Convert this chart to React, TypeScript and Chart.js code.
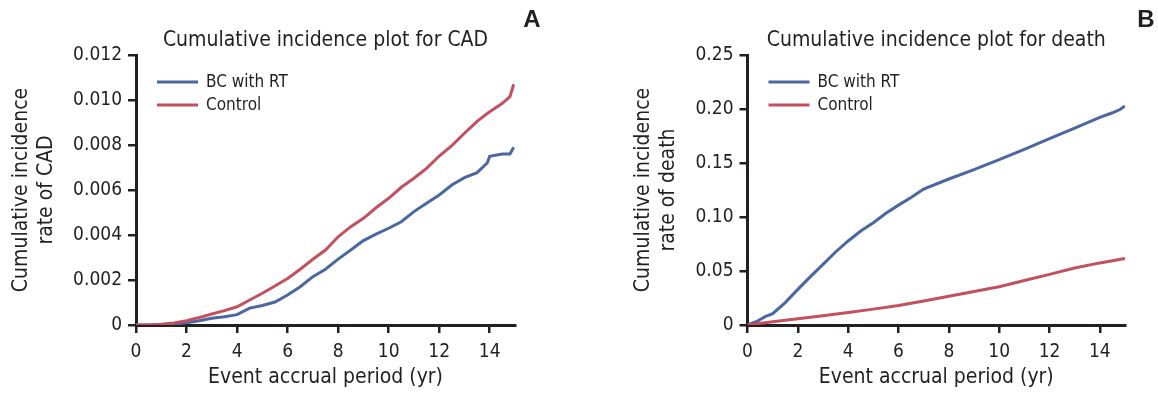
import React, { useEffect, useRef } from "react";
import { Chart, registerables } from "chart.js";

Chart.register(...registerables);

// ---------- DATA ----------
const xTicks = [0, 2, 4, 6, 8, 10, 12, 14];
const xTickLabels = ["0", "2", "4", "6", "8", "10", "12", "14"];

// Panel A: CAD
const cadYears = [0, 0.5, 1, 1.5, 2, 2.5, 3, 3.5, 4, 4.5, 5, 5.5, 6, 6.5, 7, 7.5, 8, 8.5, 9, 9.5, 10, 10.5, 11, 11.5, 12, 12.5, 13, 13.5, 13.9, 14, 14.5, 14.8, 14.95];
const cadBC = [0, 0, 0.00001, 0.00004, 0.0001, 0.00019, 0.0003, 0.00037, 0.00046, 0.00075, 0.00087, 0.00102, 0.00133, 0.0017, 0.00215, 0.00248, 0.00293, 0.00333, 0.00375, 0.00404, 0.0043, 0.00459, 0.00504, 0.00541, 0.00578, 0.00622, 0.00655, 0.00677, 0.0072, 0.0075, 0.0076, 0.0076, 0.0079];
const cadControl = [0, 0, 0.00003, 0.00009, 0.00019, 0.00033, 0.00049, 0.00064, 0.00081, 0.00111, 0.00141, 0.00173, 0.00207, 0.00248, 0.00292, 0.00333, 0.00392, 0.00437, 0.00474, 0.00521, 0.00563, 0.00612, 0.00652, 0.00696, 0.00751, 0.00797, 0.00852, 0.00905, 0.0094, 0.00948, 0.00985, 0.01015, 0.0107];
const cadYTicks = [0, 0.002, 0.004, 0.006, 0.008, 0.01, 0.012];
const cadYLabels = ["0", "0.002", "0.004", "0.006", "0.008", "0.010", "0.012"];

// Panel B: death
const deathYearsBC = [0, 0.35, 0.7, 1, 1.5, 2, 2.5, 3, 3.5, 4, 4.5, 5, 5.5, 6, 6.5, 7, 8, 9, 10, 11, 12, 13, 14, 14.5, 14.8, 15];
const deathBC = [0, 0.003, 0.0077, 0.0105, 0.0207, 0.033, 0.0448, 0.0562, 0.0676, 0.0778, 0.087, 0.0947, 0.1034, 0.111, 0.118, 0.1259, 0.1352, 0.1438, 0.1531, 0.1627, 0.1725, 0.1824, 0.1923, 0.1965, 0.1995, 0.2028];
const deathYearsControl = [0, 1, 2, 3, 4, 5, 6, 7, 8, 9, 10, 11, 12, 13, 14, 15];
const deathControl = [0, 0.003, 0.0057, 0.0085, 0.0115, 0.0147, 0.0181, 0.0222, 0.0266, 0.031, 0.0355, 0.0412, 0.0469, 0.0528, 0.0575, 0.0615];
const deathYTicks = [0, 0.05, 0.1, 0.15, 0.2, 0.25];
const deathYLabels = ["0", "0.05", "0.10", "0.15", "0.20", "0.25"];

const seriesNames = ["BC with RT", "Control"];

// ---------- STYLE ----------
const FONT = "'DejaVu Sans Condensed', 'DejaVu Sans', sans-serif";
const INK = "#231f20";
const BLUE = "#4a67a1";
const RED = "#c2505f";

type PanelSpec = {
  title: string;
  letter: string;
  letterX: number;
  yTitle: string[];
  yTitlePad: number;
  yWidth: number;
  padRight: number;
  yMax: number;
  yTicks: number[];
  yLabels: string[];
  bc: { x: number; y: number }[];
  control: { x: number; y: number }[];
};

const pts = (xs: number[], ys: number[]) => xs.map((x, i) => ({ x, y: ys[i] }));

function makePlugin(spec: PanelSpec) {
  return {
    id: "annot",
    afterDraw(chart: any) {
      const { ctx, chartArea } = chart;
      ctx.save();
      ctx.fillStyle = INK;
      ctx.textAlign = "center";
      ctx.textBaseline = "middle";
      ctx.font = `21px ${FONT}`;
      ctx.fillText(spec.title, (chartArea.left + chartArea.right) / 2, 41);
      ctx.font = `bold 24px 'Liberation Sans', Arial, sans-serif`;
      ctx.fillText(spec.letter, spec.letterX, 20);
      ctx.font = `17px ${FONT}`;
      ctx.textAlign = "left";
      const cols = [BLUE, RED];
      seriesNames.forEach((name, i) => {
        const y = 82 + i * 23;
        ctx.strokeStyle = cols[i];
        ctx.lineWidth = 3;
        ctx.beginPath();
        ctx.moveTo(chartArea.left + 21, y);
        ctx.lineTo(chartArea.left + 62, y);
        ctx.stroke();
        ctx.fillStyle = INK;
        ctx.fillText(name, chartArea.left + 70, y + 1);
      });
      ctx.restore();
    },
  };
}

function Panel({ spec, left }: { spec: PanelSpec; left: number }) {
  const ref = useRef<HTMLCanvasElement>(null);
  useEffect(() => {
    if (!ref.current) return;
    const chart = new Chart(ref.current, {
      type: "line",
      data: {
        datasets: [
          {
            label: seriesNames[0],
            data: spec.bc,
            borderColor: BLUE,
            borderWidth: 3,
            pointRadius: 0,
            tension: 0,
            order: 1,
          },
          {
            label: seriesNames[1],
            data: spec.control,
            borderColor: RED,
            borderWidth: 3,
            pointRadius: 0,
            tension: 0,
            order: 0,
          },
        ],
      },
      options: {
        animation: false,
        responsive: false,
        events: [],
        layout: { padding: { left: 0, top: 55, right: spec.padRight, bottom: 0 } },
        plugins: { legend: { display: false }, tooltip: { enabled: false }, title: { display: false } },
        scales: {
          x: {
            type: "linear",
            min: 0,
            max: 15,
            afterFit: (s: any) => {
              s.height = 69;
            },
            afterBuildTicks: (s: any) => {
              s.ticks = xTicks.map((v) => ({ value: v }));
            },
            border: { display: true, color: INK, width: 3 },
            grid: { drawOnChartArea: false, drawTicks: true, tickLength: 8, color: INK, lineWidth: 2.5 },
            ticks: {
              color: INK,
              font: { family: FONT, size: 19 },
              padding: 8,
              autoSkip: false,
              maxRotation: 0,
              callback: (_v: any, i: number) => xTickLabels[i],
            },
            title: {
              display: true,
              text: "Event accrual period (yr)",
              color: INK,
              font: { family: FONT, size: 21, lineHeight: 1.2 },
              padding: { top: 0, bottom: 4 },
            },
          },
          y: {
            type: "linear",
            min: 0,
            max: spec.yMax,
            afterFit: (s: any) => {
              s.width = spec.yWidth;
            },
            afterBuildTicks: (s: any) => {
              s.ticks = spec.yTicks.map((v) => ({ value: v }));
            },
            border: { display: true, color: INK, width: 3 },
            grid: { drawOnChartArea: false, drawTicks: true, tickLength: 8, color: INK, lineWidth: 2.5 },
            ticks: {
              color: INK,
              font: { family: FONT, size: 19 },
              padding: 6,
              autoSkip: false,
              callback: (_v: any, i: number) => spec.yLabels[i],
            },
            title: {
              display: true,
              text: spec.yTitle,
              color: INK,
              font: { family: FONT, size: 21, lineHeight: 1.2 },
              padding: { top: spec.yTitlePad, bottom: 0 },
            },
          },
        },
      },
      plugins: [makePlugin(spec)],
    } as any);
    return () => chart.destroy();
  }, [spec]);
  return (
    <canvas
      ref={ref}
      width={579}
      height={394}
      style={{ position: "absolute", left, top: 0, width: 579, height: 394, display: "block" }}
    />
  );
}

const specA: PanelSpec = {
  title: "Cumulative incidence plot for CAD",
  letter: "A",
  letterX: 532,
  yTitle: ["Cumulative incidence", "rate of CAD"],
  yTitlePad: 9,
  yWidth: 136,
  padRight: 64,
  yMax: 0.012,
  yTicks: cadYTicks,
  yLabels: cadYLabels,
  bc: pts(cadYears, cadBC),
  control: pts(cadYears, cadControl),
};

const specB: PanelSpec = {
  title: "Cumulative incidence plot for death",
  letter: "B",
  letterX: 567,
  yTitle: ["Cumulative incidence", "rate of death"],
  yTitlePad: 52,
  yWidth: 168.5,
  padRight: 33,
  yMax: 0.25,
  yTicks: deathYTicks,
  yLabels: deathYLabels,
  bc: pts(deathYearsBC, deathBC),
  control: pts(deathYearsControl, deathControl),
};

export default function App() {
  return (
    <div style={{ position: "fixed", left: 0, top: 0, width: 1158, height: 394, background: "#fff" }}>
      <Panel spec={specA} left={0} />
      <Panel spec={specB} left={579} />
    </div>
  );
}
